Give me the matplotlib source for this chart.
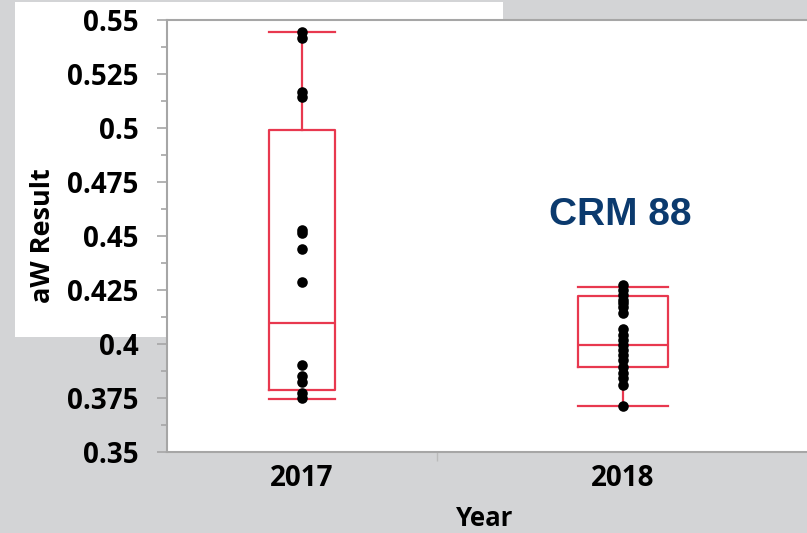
import numpy as np
import matplotlib
matplotlib.use("Agg")
from matplotlib import pyplot as plt
from matplotlib.patches import Rectangle
from matplotlib.ticker import MultipleLocator, FixedLocator

# data
years = ["2017", "2018"]
pts_2017 = [0.5445, 0.5415, 0.5165, 0.5145, 0.4530, 0.4512, 0.4440, 0.4285,
            0.3903, 0.3850, 0.3825, 0.3773, 0.3752]
pts_2018 = [0.4273, 0.4250, 0.4227, 0.4204, 0.4190, 0.4171, 0.4143, 0.4069,
            0.4042, 0.4019, 0.3995, 0.3972, 0.3949, 0.3926, 0.3894, 0.3866,
            0.3843, 0.3810, 0.3713]
# box stats as drawn in the original
whislo = [0.3745, 0.3713]
q1 = [0.3787, 0.3895]
med = [0.4097, 0.3995]
q3 = [0.4991, 0.4222]
whishi = [0.5445, 0.4265]
ytick_labels = ["0.35", "0.375", "0.4", "0.425", "0.45", "0.475", "0.5", "0.525", "0.55"]

bg = "#d3d4d6"
red = "#e8384f"
axgrey = "#a6a6a6"

W, H = 807, 533
fig = plt.figure(figsize=(W / 100, H / 100), dpi=100, facecolor=bg)

# white panel behind the y axis labels
fig.patches.append(Rectangle((15 / W, 1 - 337 / H), (503 - 15) / W, (337 - 2) / H,
                             transform=fig.transFigure, facecolor="white",
                             edgecolor="none", zorder=0))

ax = fig.add_axes([167 / W, 1 - 452 / H, (812 - 167) / W, (452 - 20) / H])
ax.set_zorder(2)
ax.set_facecolor("white")

pos = [0, 1]
widths = [66 / 321, 90 / 321]
for i in range(2):
    st = dict(whislo=whislo[i], q1=q1[i], med=med[i], q3=q3[i],
              whishi=whishi[i], fliers=[])
    ax.bxp([st], positions=[pos[i]], widths=widths[i], capwidths=widths[i],
           boxprops=dict(color=red, lw=1.6),
           whiskerprops=dict(color=red, lw=1.6),
           capprops=dict(color=red, lw=1.6),
           medianprops=dict(color=red, lw=1.6),
           manage_ticks=False, zorder=2)

ax.scatter(np.zeros(len(pts_2017)), pts_2017, s=58, color="black", zorder=3, lw=0)
ax.scatter(np.ones(len(pts_2018)), pts_2018, s=58, color="black", zorder=3, lw=0)

ax.set_xlim((167 - 302) / 321, (812 - 302) / 321)
ax.set_ylim(0.35, 0.55)

for s in ["left", "bottom", "top"]:
    ax.spines[s].set_color(axgrey)
    ax.spines[s].set_linewidth(1.5)
ax.spines["right"].set_visible(False)

ax.set_yticks(np.arange(0.35, 0.5501, 0.025))
ax.set_yticklabels(ytick_labels)
ax.yaxis.set_minor_locator(MultipleLocator(0.0125))
ax.tick_params(axis="y", which="major", length=7.5, width=1.2, color=axgrey, pad=13,
               labelsize=20)
ax.tick_params(axis="y", which="minor", length=4.5, width=1.2, color=axgrey)

ax.set_xticks(pos)
ax.set_xticklabels(years)
ax.xaxis.set_minor_locator(FixedLocator([(437 - 302) / 321]))
ax.tick_params(axis="x", which="major", length=0, pad=9, labelsize=20)
ax.tick_params(axis="x", which="minor", length=6.5, width=1, color="#bbbbbb")

for lab in ax.get_xticklabels() + ax.get_yticklabels():
    lab.set_fontfamily("Open Sans")
    lab.set_fontweight("bold")

fig.text(43 / W, 1 - 236 / H, "aW Result", rotation=90, ha="center", va="center",
         fontsize=19.5, fontweight="bold", family="Open Sans")
fig.text(485 / W, 1.5 / H, "Year", ha="center", va="bottom",
         fontsize=18.5, fontweight="bold", family="Open Sans")
fig.text(620 / W, 1 - 215 / H, "CRM 88", ha="center", va="center", zorder=5,
         fontsize=28, fontweight="bold", family="Liberation Sans", color="#0b3a6e")

fig.savefig("out.png", dpi=100, facecolor=bg)
